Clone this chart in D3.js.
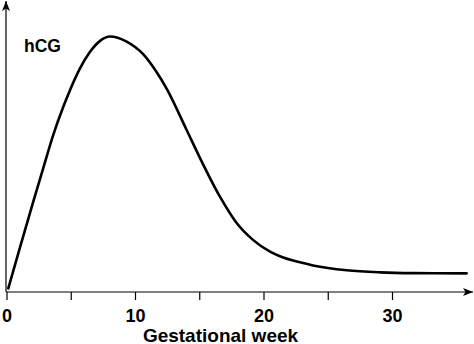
<!DOCTYPE html>
<html>
<head>
<meta charset="utf-8">
<script src="https://cdn.jsdelivr.net/npm/d3@7"></script>
<style>
  html, body { margin: 0; padding: 0; background: #fff; }
  svg { display: block; }
  text { font-family: "Liberation Sans", Arial, Helvetica, sans-serif; font-weight: bold; fill: #000; }
</style>
</head>
<body>
<svg id="chart" width="474" height="344"></svg>
<script>
// hCG level over gestation (relative units, peak = 100)
const weeks = [0.14, 1.05, 2.09, 2.86, 3.64, 4.42, 4.94, 5.72, 6.50, 7.28, 8.05,
               9.35, 10.65, 11.69, 12.47, 14.02, 15.06, 16.61, 17.91, 19.18, 20.51,
               21.28, 22.84, 23.85, 26.47, 29.07, 31.63, 35.81];
const hcg   = [1.4, 17.5, 35.5, 48.5, 61.5, 72.5, 79.0, 87.5, 94.0, 98.3, 100,
               98.0, 93.0, 86.0, 79.5, 63.4, 52.4, 37.3, 27.0, 20.4, 15.8,
               14.0, 11.6, 10.4, 8.5, 7.7, 7.4, 7.3];
const tickWeeks  = [0, 5, 10, 15, 20, 25, 30];
const labelWeeks = [0, 10, 20, 30];
const xTitle = "Gestational week";
const yTitle = "hCG";

const svg = d3.select("#chart");
const x = d3.scaleLinear().domain([0, 30]).range([6.5, 392]);
const y = d3.scaleLinear().domain([0, 100]).range([292, 36.5]);
const axisY = 292, axisX = 6;

// Arrow heads for the axes
const defs = svg.append("defs");
defs.append("marker")
  .attr("id", "arrow")
  .attr("viewBox", "0 0 10 8")
  .attr("refX", 10).attr("refY", 4)
  .attr("markerWidth", 10).attr("markerHeight", 8)
  .attr("markerUnits", "userSpaceOnUse")
  .attr("orient", "auto")
  .append("path")
  .attr("d", "M0,0 L10,4 L0,8 L2.5,4 Z")
  .attr("fill", "#000");

// x axis line with ticks
svg.append("line")
  .attr("x1", axisX).attr("y1", axisY)
  .attr("x2", 473).attr("y2", axisY)
  .attr("stroke", "#000").attr("stroke-width", 1.2)
  .attr("marker-end", "url(#arrow)");

const xAxis = d3.axisBottom(x)
  .tickValues(tickWeeks)
  .tickSize(8)
  .tickFormat(d => labelWeeks.includes(d) ? d : "");

const gx = svg.append("g")
  .attr("transform", `translate(0,${axisY})`)
  .call(xAxis);
gx.select(".domain").remove();
gx.selectAll(".tick line").attr("stroke", "#000").attr("stroke-width", 1.2);
gx.selectAll(".tick text")
  .attr("y", 30).attr("dy", null)
  .style("font-size", "18px")
  .style("font-family", "'Liberation Sans', Arial, sans-serif")
  .style("font-weight", "bold")
  .attr("fill", "#000");

// y axis line
svg.append("line")
  .attr("x1", axisX).attr("y1", axisY)
  .attr("x2", axisX).attr("y2", 1)
  .attr("stroke", "#000").attr("stroke-width", 1.2)
  .attr("marker-end", "url(#arrow)");

// hCG curve
const line = d3.line()
  .x((d, i) => x(weeks[i]))
  .y(d => y(d))
  .curve(d3.curveMonotoneX);

svg.append("path")
  .datum(hcg)
  .attr("d", line)
  .attr("fill", "none")
  .attr("stroke", "#000")
  .attr("stroke-width", 2.6)
  .attr("stroke-linecap", "round");

// titles
svg.append("text")
  .attr("x", 24).attr("y", 51.5)
  .style("font-size", "17.5px")
  .text(yTitle);

svg.append("text")
  .attr("x", 220.5).attr("y", 341.5)
  .attr("text-anchor", "middle")
  .style("font-size", "19px")
  .text(xTitle);
</script>
</body>
</html>
